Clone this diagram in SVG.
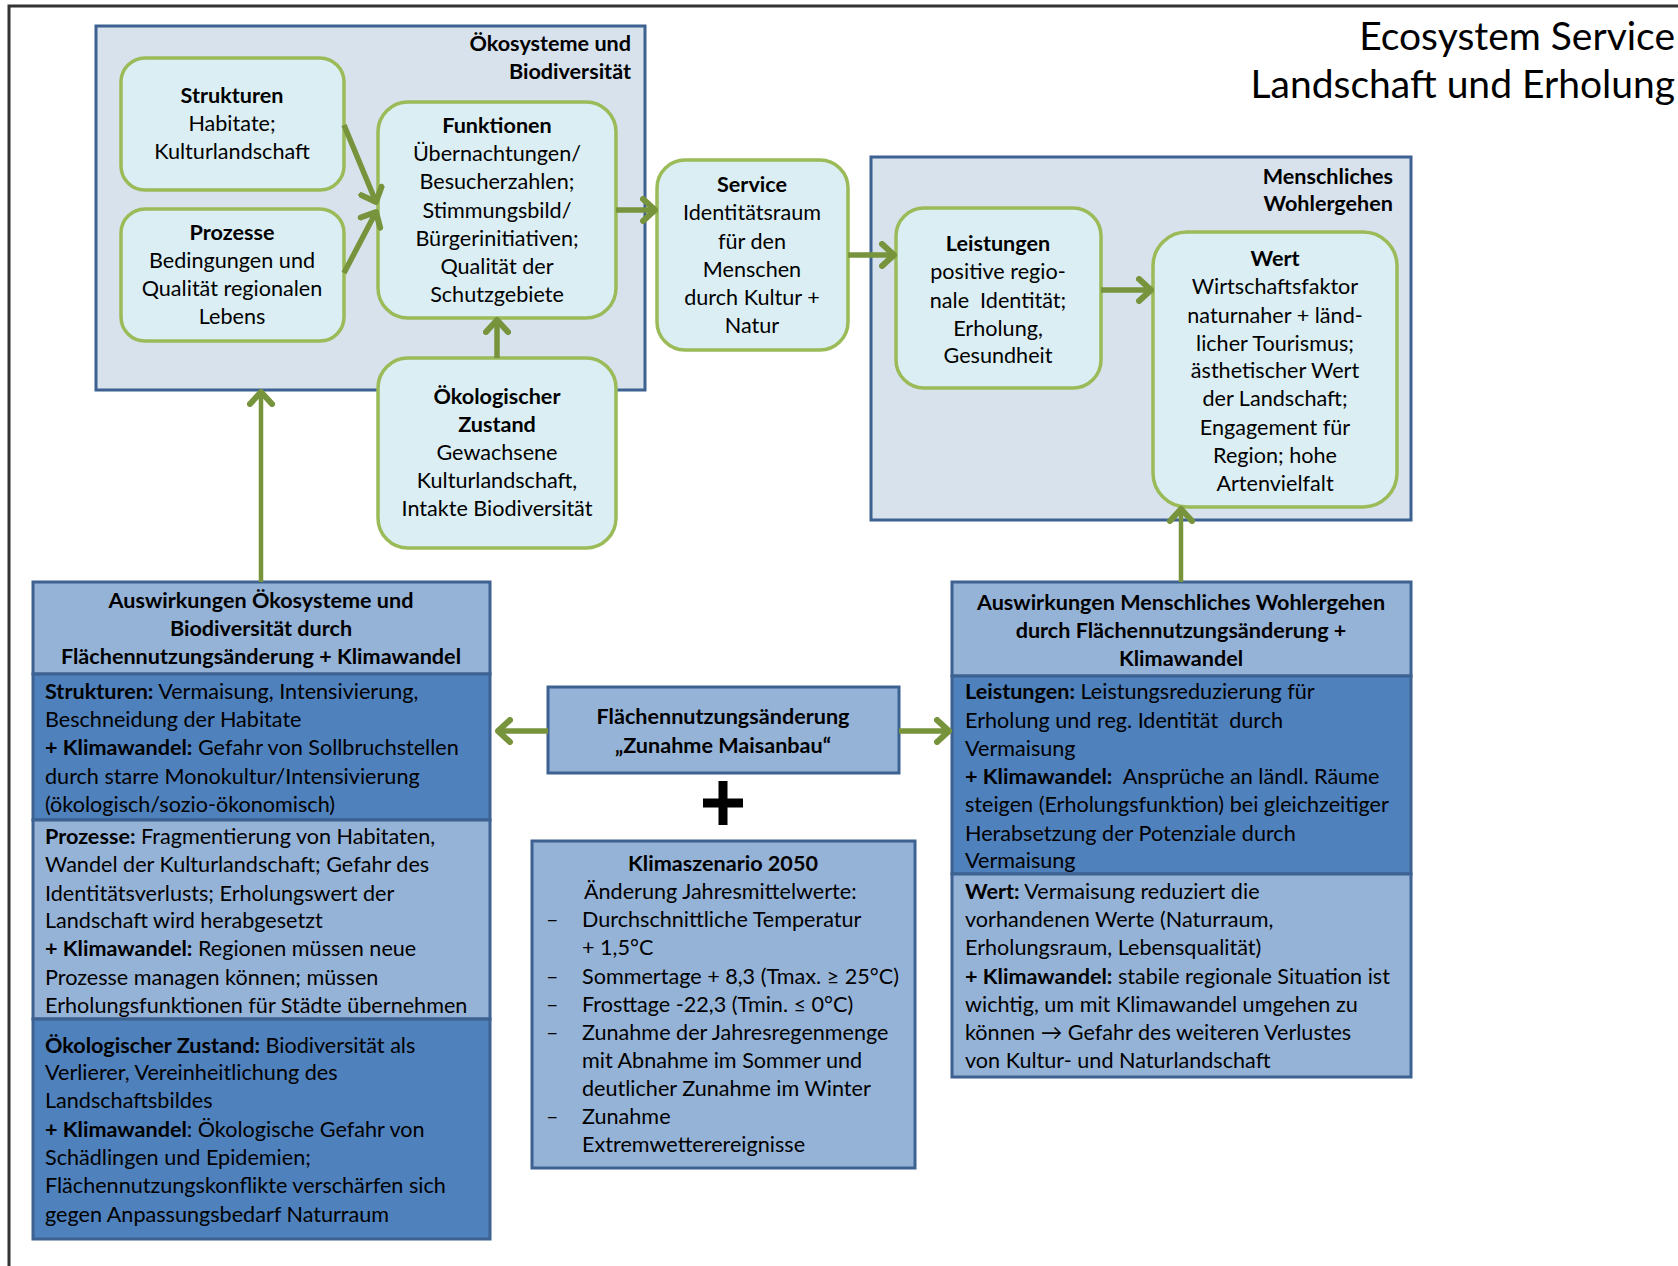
<svg xmlns="http://www.w3.org/2000/svg" width="1678" height="1266" viewBox="0 0 1678 1266">
<defs>
<style>
text{font-family:Lato,"Open Sans","Liberation Sans",sans-serif;font-size:21.6px;fill:#000}
.b{font-weight:bold}
.c{text-anchor:middle}
.r{text-anchor:end}
.grp{fill:#d8e2ed;stroke:#3d6190;stroke-width:3}
.nd{fill:#daeef3;stroke:#9bbb59;stroke-width:3.5}
.lt{fill:#95b3d7;stroke:#3d6190;stroke-width:3}
.dk{fill:#4f81bd;stroke:#3d6190;stroke-width:3}
.ar{stroke:#77933c;stroke-width:5.5;fill:none}
</style>
<marker id="ah" markerUnits="userSpaceOnUse" viewBox="0 0 20 28" markerWidth="20" markerHeight="28" refX="15" refY="14" orient="auto">
<path d="M3,3 L15,14 L3,25" fill="none" stroke="#77933c" stroke-width="6" stroke-linecap="round" stroke-linejoin="round"/>
</marker>
</defs>
<rect width="1678" height="1266" fill="#fff"/>
<path d="M9,1266 V6 H1678" fill="none" stroke="#333" stroke-width="3"/>
<g id="title">
<text class="r" x="1675" y="50" style="font-size:39px">Ecosystem Service</text>
<text class="r" x="1675" y="98" style="font-size:39px">Landschaft und Erholung</text>
</g>
<g id="oekosysteme">
<rect class="grp" x="96" y="26" width="549" height="364"/>
<text class="b r" x="631" y="51">Ökosysteme und</text>
<text class="b r" x="631" y="79">Biodiversität</text>
</g>
<g id="wohlergehen">
<rect class="grp" x="871" y="157" width="540" height="363"/>
<text class="b r" x="1393" y="184">Menschliches</text>
<text class="b r" x="1393" y="211">Wohlergehen</text>
</g>
<g id="strukturen">
<rect class="nd" x="121" y="58" width="223" height="132" rx="24"/>
<text class="c b" x="232" y="103">Strukturen</text>
<text class="c" x="232" y="131">Habitate;</text>
<text class="c" x="232" y="159">Kulturlandschaft</text>
</g>
<g id="prozesse">
<rect class="nd" x="121" y="209" width="223" height="132" rx="24"/>
<text class="c b" x="232" y="240">Prozesse</text>
<text class="c" x="232" y="268">Bedingungen und</text>
<text class="c" x="232" y="296">Qualität regionalen</text>
<text class="c" x="232" y="324">Lebens</text>
</g>
<g id="funktionen">
<rect class="nd" x="378" y="102" width="238" height="216" rx="30"/>
<text class="c b" x="497" y="133">Funktionen</text>
<text class="c" x="497" y="161">Übernachtungen/</text>
<text class="c" x="497" y="189">Besucherzahlen;</text>
<text class="c" x="497" y="218">Stimmungsbild/</text>
<text class="c" x="497" y="246">Bürgerinitiativen;</text>
<text class="c" x="497" y="274">Qualität der</text>
<text class="c" x="497" y="302">Schutzgebiete</text>
</g>
<g id="zustand">
<rect class="nd" x="378" y="358" width="238" height="190" rx="30"/>
<text class="c b" x="497" y="404">Ökologischer</text>
<text class="c b" x="497" y="432">Zustand</text>
<text class="c" x="497" y="460">Gewachsene</text>
<text class="c" x="497" y="488">Kulturlandschaft,</text>
<text class="c" x="497" y="516">Intakte Biodiversität</text>
</g>
<g id="service">
<rect class="nd" x="657" y="160" width="191" height="190" rx="28"/>
<text class="c b" x="752" y="192">Service</text>
<text class="c" x="752" y="220">Identitätsraum</text>
<text class="c" x="752" y="249">für den</text>
<text class="c" x="752" y="277">Menschen</text>
<text class="c" x="752" y="305">durch Kultur +</text>
<text class="c" x="752" y="333">Natur</text>
</g>
<g id="leistungen">
<rect class="nd" x="896" y="208" width="205" height="180" rx="28"/>
<text class="c b" x="998" y="251">Leistungen</text>
<text class="c" x="998" y="279">positive regio-</text>
<text class="c" x="998" y="308" xml:space="preserve">nale  Identität;</text>
<text class="c" x="998" y="336">Erholung,</text>
<text class="c" x="998" y="363">Gesundheit</text>
</g>
<g id="wert">
<rect class="nd" x="1153" y="232" width="244" height="275" rx="34"/>
<text class="c b" x="1275" y="266">Wert</text>
<text class="c" x="1275" y="294">Wirtschaftsfaktor</text>
<text class="c" x="1275" y="323">naturnaher + länd-</text>
<text class="c" x="1275" y="351">licher Tourismus;</text>
<text class="c" x="1275" y="378">ästhetischer Wert</text>
<text class="c" x="1275" y="406">der Landschaft;</text>
<text class="c" x="1275" y="435">Engagement für</text>
<text class="c" x="1275" y="463">Region; hohe</text>
<text class="c" x="1275" y="491">Artenvielfalt</text>
</g>
<g id="auswirkungen-oeko">
<rect class="lt" x="33" y="582" width="457" height="92"/>
<rect class="dk" x="33" y="674" width="457" height="146"/>
<rect class="lt" x="33" y="820" width="457" height="199"/>
<rect class="dk" x="33" y="1019" width="457" height="220"/>
<text class="c b" x="261" y="608">Auswirkungen Ökosysteme und</text>
<text class="c b" x="261" y="636">Biodiversität durch</text>
<text class="c b" x="261" y="664">Flächennutzungsänderung + Klimawandel</text>
<text x="45" y="699"><tspan class="b">Strukturen:</tspan> Vermaisung, Intensivierung,</text>
<text x="45" y="727">Beschneidung der Habitate</text>
<text x="45" y="755"><tspan class="b">+ Klimawandel:</tspan> Gefahr von Sollbruchstellen</text>
<text x="45" y="784">durch starre Monokultur/Intensivierung</text>
<text x="45" y="812">(ökologisch/sozio-ökonomisch)</text>
<text x="45" y="844"><tspan class="b">Prozesse:</tspan> Fragmentierung von Habitaten,</text>
<text x="45" y="872">Wandel der Kulturlandschaft; Gefahr des</text>
<text x="45" y="901">Identitätsverlusts; Erholungswert der</text>
<text x="45" y="928">Landschaft wird herabgesetzt</text>
<text x="45" y="956"><tspan class="b">+ Klimawandel:</tspan> Regionen müssen neue</text>
<text x="45" y="985">Prozesse managen können; müssen</text>
<text x="45" y="1013">Erholungsfunktionen für Städte übernehmen</text>
<text x="45" y="1053"><tspan class="b">Ökologischer Zustand:</tspan> Biodiversität als</text>
<text x="45" y="1080">Verlierer, Vereinheitlichung des</text>
<text x="45" y="1108">Landschaftsbildes</text>
<text x="45" y="1137"><tspan class="b">+ Klimawandel</tspan>: Ökologische Gefahr von</text>
<text x="45" y="1165">Schädlingen und Epidemien;</text>
<text x="45" y="1193">Flächennutzungskonflikte verschärfen sich</text>
<text x="45" y="1222">gegen Anpassungsbedarf Naturraum</text>
</g>
<g id="flaechennutzung">
<rect class="lt" x="548" y="687" width="351" height="86"/>
<text class="c b" x="723" y="724">Flächennutzungsänderung</text>
<text class="c b" x="723" y="753">„Zunahme Maisanbau“</text>
</g>
<g id="plus">
<path d="M723,781 V825 M703,803 H743" stroke="#000" stroke-width="9"/>
</g>
<g id="klimaszenario">
<rect class="lt" x="532" y="841" width="383" height="327"/>
<text class="c b" x="723" y="871">Klimaszenario 2050</text>
<text x="584" y="899">Änderung Jahresmittelwerte:</text>
<text x="546" y="927">–</text><text x="582" y="927">Durchschnittliche Temperatur</text>
<text x="582" y="955">+ 1,5°C</text>
<text x="546" y="984">–</text><text x="582" y="984">Sommertage + 8,3 (Tmax. ≥ 25°C)</text>
<text x="546" y="1012">–</text><text x="582" y="1012">Frosttage -22,3 (Tmin. ≤ 0°C)</text>
<text x="546" y="1040">–</text><text x="582" y="1040">Zunahme der Jahresregenmenge</text>
<text x="582" y="1068">mit Abnahme im Sommer und</text>
<text x="582" y="1096">deutlicher Zunahme im Winter</text>
<text x="546" y="1124">–</text><text x="582" y="1124">Zunahme</text>
<text x="582" y="1152">Extremwetterereignisse</text>
</g>
<g id="auswirkungen-mensch">
<rect class="lt" x="952" y="582" width="459" height="94"/>
<rect class="dk" x="952" y="676" width="459" height="198"/>
<rect class="lt" x="952" y="874" width="459" height="203"/>
<text class="c b" x="1181" y="610">Auswirkungen Menschliches Wohlergehen</text>
<text class="c b" x="1181" y="638">durch Flächennutzungsänderung +</text>
<text class="c b" x="1181" y="666">Klimawandel</text>
<text x="965" y="699"><tspan class="b">Leistungen:</tspan> Leistungsreduzierung für</text>
<text x="965" y="728" xml:space="preserve">Erholung und reg. Identität  durch</text>
<text x="965" y="756">Vermaisung</text>
<text x="965" y="784" xml:space="preserve"><tspan class="b">+ Klimawandel:</tspan>  Ansprüche an ländl. Räume</text>
<text x="965" y="812">steigen (Erholungsfunktion) bei gleichzeitiger</text>
<text x="965" y="841">Herabsetzung der Potenziale durch</text>
<text x="965" y="868">Vermaisung</text>
<text x="965" y="899"><tspan class="b">Wert:</tspan> Vermaisung reduziert die</text>
<text x="965" y="927">vorhandenen Werte (Naturraum,</text>
<text x="965" y="955">Erholungsraum, Lebensqualität)</text>
<text x="965" y="984"><tspan class="b">+ Klimawandel:</tspan> stabile regionale Situation ist</text>
<text x="965" y="1012">wichtig, um mit Klimawandel umgehen zu</text>
<text x="965" y="1040">können → Gefahr des weiteren Verlustes</text>
<text x="965" y="1068">von Kultur- und Naturlandschaft</text>
</g>
<g id="connectors">
<line class="ar" x1="344" y1="125" x2="376" y2="202" marker-end="url(#ah)"/>
<line class="ar" x1="344" y1="273" x2="376" y2="212" marker-end="url(#ah)"/>
<line class="ar" x1="497" y1="358" x2="497" y2="320" marker-end="url(#ah)"/>
<line class="ar" x1="616" y1="210" x2="655" y2="210" marker-end="url(#ah)"/>
<line class="ar" x1="848" y1="255" x2="894" y2="255" marker-end="url(#ah)"/>
<line class="ar" x1="1101" y1="290" x2="1151" y2="290" marker-end="url(#ah)"/>
<line class="ar" x1="261" y1="582" x2="261" y2="392" marker-end="url(#ah)" style="stroke-width:4.5"/>
<line class="ar" x1="1181" y1="582" x2="1181" y2="509" marker-end="url(#ah)" style="stroke-width:4.5"/>
<line class="ar" x1="548" y1="731" x2="498" y2="731" marker-end="url(#ah)"/>
<line class="ar" x1="899" y1="731" x2="949" y2="731" marker-end="url(#ah)"/>
</g>
</svg>
